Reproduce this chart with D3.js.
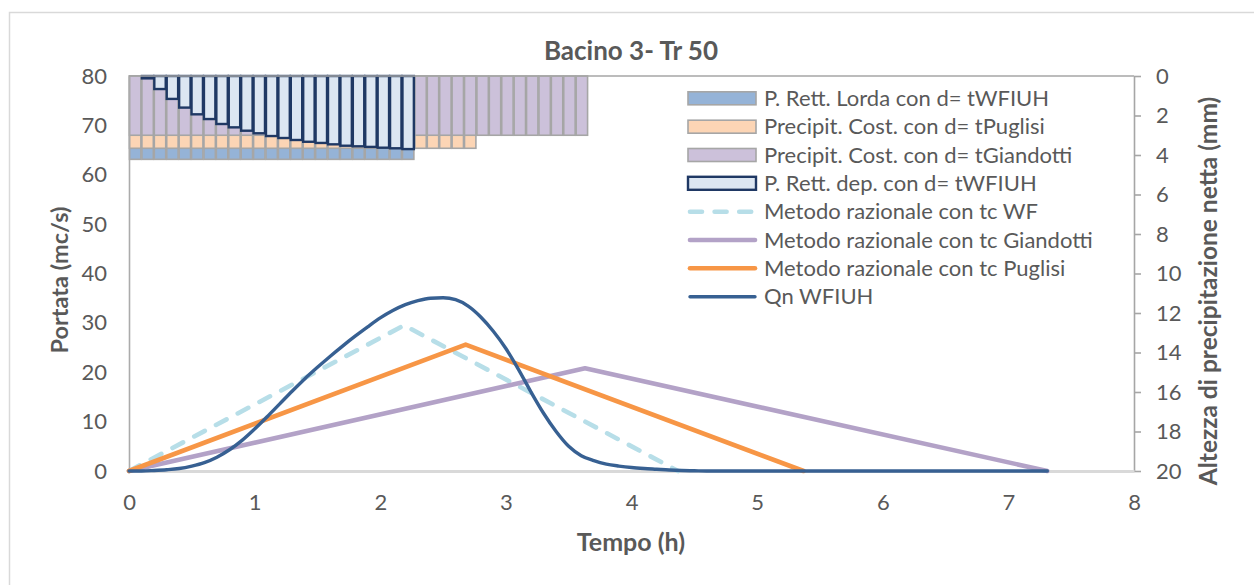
<!DOCTYPE html>
<html>
<head>
<meta charset="utf-8">
<script src="https://cdn.jsdelivr.net/npm/d3@7"></script>
<style>
  body { margin: 0; background: #fff; }
  text { font-family: Lato, "Open Sans", sans-serif; fill: #595959; }
</style>
</head>
<body>
<svg id="chart" width="1254" height="585"></svg>
<script>
// ---- data ----
const chartTitle = "Bacino 3- Tr 50";
const timeTicks = [0, 1, 2, 3, 4, 5, 6, 7, 8];
const flowTicks = [0, 10, 20, 30, 40, 50, 60, 70, 80];
const rainTicks = [0, 2, 4, 6, 8, 10, 12, 14, 16, 18, 20];
const rainSlots = 81; // time steps on the secondary category axis

// hyetographs (mm per step)
const rainLorda = [4.22, 4.22, 4.22, 4.22, 4.22, 4.22, 4.22, 4.22, 4.22, 4.22, 4.22, 4.22,
                   4.22, 4.22, 4.22, 4.22, 4.22, 4.22, 4.22, 4.22, 4.22, 4.22, 4.22];
const rainPuglisi = [3.66, 3.66, 3.66, 3.66, 3.66, 3.66, 3.66, 3.66, 3.66, 3.66, 3.66, 3.66, 3.66, 3.66,
                     3.66, 3.66, 3.66, 3.66, 3.66, 3.66, 3.66, 3.66, 3.66, 3.66, 3.66, 3.66, 3.66, 3.66];
const rainGiandotti = [3.0, 3.0, 3.0, 3.0, 3.0, 3.0, 3.0, 3.0, 3.0, 3.0, 3.0, 3.0, 3.0, 3.0, 3.0, 3.0, 3.0, 3.0, 3.0,
                       3.0, 3.0, 3.0, 3.0, 3.0, 3.0, 3.0, 3.0, 3.0, 3.0, 3.0, 3.0, 3.0, 3.0, 3.0, 3.0, 3.0, 3.0];
const rainNetta = [0, 0.12, 0.66, 1.16, 1.6, 1.94, 2.18, 2.43, 2.6, 2.77, 2.9, 3.04,
                   3.14, 3.24, 3.33, 3.39, 3.46, 3.53, 3.56, 3.59, 3.63, 3.66, 3.70];

// rational method hydrographs (h, mc/s)
const wfTime = [0, 2.19, 4.37];
const wfFlow = [0, 29.5, 0];
const giandottiTime = [0, 3.63, 7.31];
const giandottiFlow = [0, 20.8, 0];
const puglisiTime = [0, 2.68, 5.37];
const puglisiFlow = [0, 25.6, 0];

// WFIUH hydrograph (h, mc/s)
const qnTime = [0, 0.1, 0.2, 0.3, 0.4, 0.5, 0.6, 0.7, 0.8, 0.9, 1.0, 1.1, 1.2, 1.3, 1.4, 1.5,
                1.6, 1.7, 1.8, 1.9, 2.0, 2.1, 2.2, 2.3, 2.4, 2.5, 2.6, 2.7, 2.8, 2.9, 3.0, 3.1,
                3.2, 3.3, 3.4, 3.5, 3.6, 3.7, 3.8, 3.9, 4.0, 4.1, 4.2, 4.3, 4.4, 4.5, 4.6, 7.31];
const qnFlow = [0, 0, 0.1, 0.25, 0.5, 1.0, 1.7, 2.8, 4.3, 6.2, 8.5, 11.0, 13.6, 16.2, 18.7, 21.0,
                23.2, 25.3, 27.3, 29.2, 31.0, 32.5, 33.7, 34.5, 35.0, 35.1, 34.7, 33.4, 31.2, 28.3, 24.8, 20.6,
                16.0, 11.7, 8.0, 5.0, 3.1, 2.1, 1.4, 1.0, 0.7, 0.5, 0.35, 0.2, 0.1, 0.05, 0, 0];

const legendLabels = [
  "P. Rett. Lorda con d= tWFIUH",
  "Precipit. Cost. con d= tPuglisi",
  "Precipit. Cost. con d= tGiandotti",
  "P. Rett. dep. con d= tWFIUH",
  "Metodo razionale con tc WF",
  "Metodo razionale con tc Giandotti",
  "Metodo razionale con tc Puglisi",
  "Qn WFIUH"
];

// ---- layout ----
const svg = d3.select("#chart");
const plot = { left: 129, right: 1134, top: 76, bottom: 471 };

const x = d3.scaleLinear().domain([0, 8]).range([plot.left, plot.right]);
const y = d3.scaleLinear().domain([0, 80]).range([plot.bottom, plot.top]);
const yRain = d3.scaleLinear().domain([0, 20]).range([plot.top, plot.bottom]);
const slot = d3.scaleBand().domain(d3.range(rainSlots)).range([plot.left, plot.right]).padding(0);

// chart frame
svg.append("rect")
  .attr("x", 9.5).attr("y", 12.5).attr("width", 1300).attr("height", 640)
  .attr("fill", "#fff").attr("stroke", "#d9d9d9").attr("stroke-width", 1.5);

// ---- hyetograph bars (hanging from the top) ----
const barGroup = svg.append("g");
function drawBars(values, fill, stroke, sw) {
  barGroup.append("g").selectAll("rect")
    .data(values.map((v, i) => ({ i, v })).filter(d => d.v > 0))
    .join("rect")
    .attr("x", d => slot(d.i) + 0.5)
    .attr("y", yRain(0))
    .attr("width", slot.bandwidth() - 1)
    .attr("height", d => yRain(d.v) - yRain(0))
    .attr("fill", fill)
    .attr("stroke", stroke)
    .attr("stroke-width", sw);
}
drawBars(rainLorda, "#95b3d7", "#a6a6a6", 1.6);
drawBars(rainPuglisi, "#fcd5b5", "#a6a6a6", 1.6);
drawBars(rainGiandotti, "#ccc1da", "#a6a6a6", 1.6);
drawBars(rainNetta, "#dce6f2", "#1f3864", 2.4);

// ---- axes ----
const tickFont = "22px";

const axisLeft = svg.append("g")
  .attr("transform", `translate(${plot.left},0)`)
  .call(d3.axisLeft(y).tickValues(flowTicks).tickSize(0).tickSizeOuter(0).tickPadding(22));
axisLeft.select(".domain").attr("stroke", "#ababab").attr("stroke-width", 1.6);

const axisRight = svg.append("g")
  .attr("transform", `translate(${plot.right},0)`)
  .call(d3.axisRight(yRain).tickValues(rainTicks).tickSize(7).tickSizeOuter(0).tickPadding(15));
axisRight.select(".domain").attr("stroke", "#a6a6a6").attr("stroke-width", 1.6);
axisRight.selectAll(".tick line").attr("stroke", "#a6a6a6").attr("stroke-width", 1.6);

// secondary category axis along the top
svg.append("line")
  .attr("x1", plot.left).attr("x2", plot.right)
  .attr("y1", plot.top).attr("y2", plot.top)
  .attr("stroke", "#a6a6a6").attr("stroke-width", 1.6);

const axisBottom = svg.append("g")
  .attr("transform", `translate(0,${plot.bottom})`)
  .call(d3.axisBottom(x).tickValues(timeTicks).tickSize(0).tickSizeOuter(0).tickPadding(23));
axisBottom.select(".domain").attr("stroke", "#d9d9d9").attr("stroke-width", 3);

svg.selectAll(".tick text")
  .style("font-family", "Lato, 'Open Sans', sans-serif")
  .style("font-size", tickFont)
  .attr("fill", "#595959");

// ---- hydrograph lines ----
const lineGen = d3.line().x(d => x(d[0])).y(d => y(d[1]));
const smoothGen = d3.line().x(d => x(d[0])).y(d => y(d[1])).curve(d3.curveMonotoneX);
const zip = (a, b) => a.map((v, i) => [v, b[i]]);

const lineStyles = [
  { pts: zip(wfTime, wfFlow), color: "#b7dee8", width: 4.6, dash: "12,12.6", gen: lineGen },
  { pts: zip(giandottiTime, giandottiFlow), color: "#b3a2c7", width: 4.6, dash: null, gen: lineGen },
  { pts: zip(puglisiTime, puglisiFlow), color: "#f79646", width: 4.6, dash: null, gen: lineGen },
  { pts: zip(qnTime, qnFlow), color: "#376092", width: 3.4, dash: null, gen: smoothGen }
];
lineStyles.forEach(s => {
  svg.append("path")
    .attr("d", s.gen(s.pts))
    .attr("fill", "none")
    .attr("stroke", s.color)
    .attr("stroke-width", s.width)
    .attr("stroke-linecap", "round")
    .attr("stroke-linejoin", "round")
    .attr("stroke-dasharray", s.dash);
});

// ---- legend ----
const legendRows = [98.3, 126.7, 155, 183.3, 211.7, 240, 268.3, 296.7];
const legendSymbols = [
  { type: "rect", fill: "#95b3d7", stroke: "#a6a6a6", sw: 1.6 },
  { type: "rect", fill: "#fcd5b5", stroke: "#a6a6a6", sw: 1.6 },
  { type: "rect", fill: "#ccc1da", stroke: "#a6a6a6", sw: 1.6 },
  { type: "rect", fill: "#dce6f2", stroke: "#1f3864", sw: 2.4 },
  { type: "line", color: "#b7dee8", width: 4.6, dash: "12,12.6" },
  { type: "line", color: "#b3a2c7", width: 4.6 },
  { type: "line", color: "#f79646", width: 4.6 },
  { type: "line", color: "#376092", width: 3.4 }
];
const legend = svg.append("g");
legendLabels.forEach((label, i) => {
  const cy = legendRows[i];
  const s = legendSymbols[i];
  if (s.type === "rect") {
    legend.append("rect")
      .attr("x", 688).attr("y", cy - 6.5).attr("width", 68).attr("height", 13)
      .attr("fill", s.fill).attr("stroke", s.stroke).attr("stroke-width", s.sw);
  } else {
    legend.append("line")
      .attr("x1", 690).attr("x2", 755).attr("y1", cy).attr("y2", cy)
      .attr("stroke", s.color).attr("stroke-width", s.width)
      .attr("stroke-linecap", "round")
      .attr("stroke-dasharray", s.dash || null);
  }
  legend.append("text")
    .attr("x", 764).attr("y", cy).attr("dy", "0.35em")
    .style("font-size", "22px")
    .text(label);
});

// ---- titles ----
svg.append("text")
  .attr("x", 631).attr("y", 51).attr("dy", "0.35em")
  .attr("text-anchor", "middle")
  .style("font-size", "26px").style("font-weight", "bold")
  .text(chartTitle);

svg.append("text")
  .attr("x", 631).attr("y", 542).attr("dy", "0.35em")
  .attr("text-anchor", "middle")
  .style("font-size", "25px").style("font-weight", "bold")
  .text("Tempo (h)");

svg.append("text")
  .attr("transform", "translate(60,280) rotate(-90)")
  .attr("dy", "0.35em")
  .attr("text-anchor", "middle")
  .style("font-size", "23.5px").style("font-weight", "bold")
  .text("Portata (mc/s)");

svg.append("text")
  .attr("transform", "translate(1208,291) rotate(-90)")
  .attr("dy", "0.35em")
  .attr("text-anchor", "middle")
  .style("font-size", "24.5px").style("font-weight", "bold")
  .text("Altezza di precipitazione netta (mm)");
</script>
</body>
</html>
